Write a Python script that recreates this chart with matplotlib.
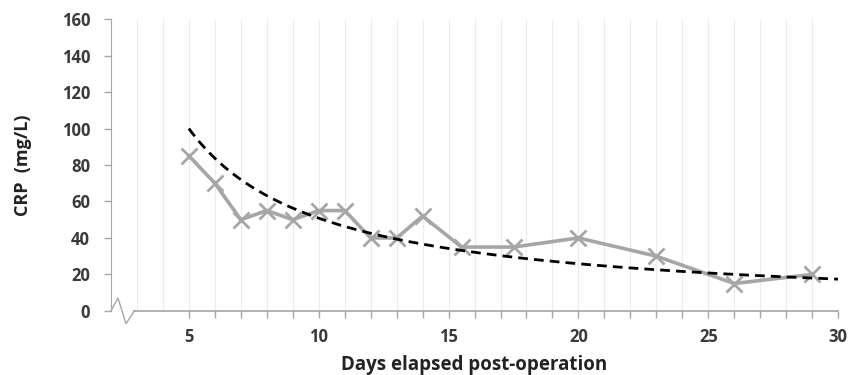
import numpy as np
import matplotlib.pyplot as plt

plt.rcParams['font.family'] = ['Open Sans', 'DejaVu Sans']

days = [5, 6, 7, 8, 9, 10, 11, 12, 13, 14, 15.5, 17.5, 20, 23, 26, 29]
crp = [85, 70, 50, 55, 50, 55, 55, 40, 40, 52, 35, 35, 40, 30, 15, 20]

# power trendline y = a * x^b (coefficients)
trend_a = 481.0
trend_b = -0.976
trend_start, trend_end = 5, 30

x_labels = [5, 10, 15, 20, 25, 30]
y_ticks = [0, 20, 40, 60, 80, 100, 120, 140, 160]

fig = plt.figure(figsize=(8.49, 3.75), dpi=100)
ax = fig.add_axes([0.1307, 0.171, 0.8565, 0.778])

ax.set_xlim(2, 30)
ax.set_ylim(0, 160)

# light vertical grid at every day
ax.vlines(np.arange(3, 30), 0, 160, colors='#ececec', linewidth=0.8, zorder=0)

ax.plot(days, crp, color='#a6a6a6', linewidth=2.6, marker='x',
        markersize=11, markeredgewidth=2.0, zorder=3)

tx = np.linspace(trend_start, trend_end, 200)
ax.plot(tx, trend_a * tx ** trend_b, color='black', linewidth=2.0,
        linestyle=(0, (3.5, 2.2)), zorder=4)

# axes styling
for side in ['top', 'right']:
    ax.spines[side].set_visible(False)
ax.spines['left'].set_color('#a6a6a6')
ax.spines['bottom'].set_visible(False)

ax.set_xticks(x_labels)
ax.set_xticks(np.arange(5, 31), minor=True)
ax.set_yticks(y_ticks)
ax.tick_params(axis='x', which='both', direction='out', length=5, width=1,
               color='#a6a6a6', labelsize=12, labelcolor='#3a3a3a', pad=7.5)
ax.tick_params(axis='y', direction='out', length=5, width=1, color='#a6a6a6',
               labelsize=12, labelcolor='#3a3a3a', pad=10)
for lab in ax.get_xticklabels() + ax.get_yticklabels():
    lab.set_fontweight('bold')

# bottom axis with a break near the origin
ax.plot([2.9, 30], [0, 0], color='#a6a6a6', linewidth=1.2, clip_on=False, zorder=2)
ax.plot([2.0, 2.27, 2.58, 2.9], [0, 7, -7, 0], color='#a6a6a6', linewidth=1.0,
        clip_on=False, zorder=2)

ax.set_ylabel('CRP  (mg/L)', fontsize=13, fontweight='bold', color='#222222', labelpad=21)
ax.set_xlabel('Days elapsed post-operation', fontsize=13.5, fontweight='bold',
              color='#222222', labelpad=6)

fig.savefig('out.png', dpi=100)
